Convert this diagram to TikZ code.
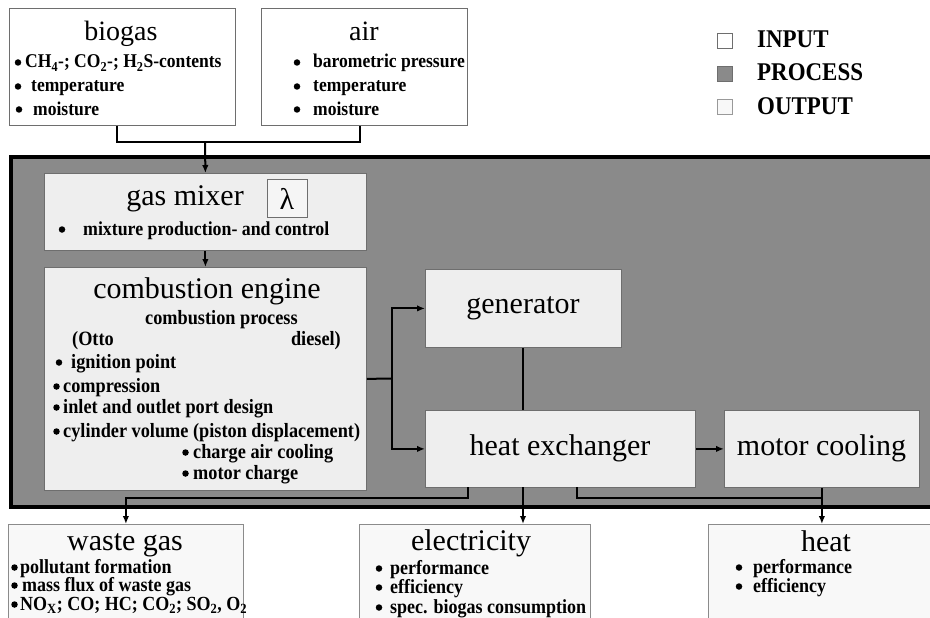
\documentclass[tikz,border=0pt]{standalone}
\usepackage{fontspec}
\setmainfont{Liberation Serif}
\newfontfamily\itemfont[FakeStretch=0.9]{Liberation Serif}
\usetikzlibrary{arrows.meta}
\definecolor{procgray}{HTML}{8A8A8A}
\definecolor{inner}{HTML}{EEEEEE}
\definecolor{outfill}{HTML}{F8F8F8}
\definecolor{edge}{HTML}{6E6E6E}
\tikzset{
  inbox/.style={draw=edge, fill=white, line width=0.8pt, inner sep=0pt, anchor=north west},
  pbox/.style={draw=edge, fill=inner, line width=0.8pt, inner sep=0pt, anchor=north west},
  obox/.style={draw=edge!80, fill=outfill, line width=0.8pt, inner sep=0pt, anchor=north west},
  procrect/.style={draw=black, fill=procgray, line width=3.5pt, inner sep=0pt, anchor=north west},
  conn/.style={line width=2pt, black},
  arr/.style={conn, -{Latex[length=8pt,width=6.5pt]}},
  ttl/.style={font=\fontsize{28}{32}\selectfont, inner sep=0pt, anchor=base},
  bigttl/.style={font=\fontsize{30}{34}\selectfont, inner sep=0pt, anchor=base},
  itm/.style={font=\itemfont\fontsize{20.3}{22}\selectfont\bfseries, inner sep=0pt, anchor=base west},
  sitm/.style={font=\itemfont\fontsize{19.5}{22}\selectfont\bfseries, inner sep=0pt, anchor=base west},
  oitm/.style={font=\itemfont\fontsize{20}{22}\selectfont\bfseries, inner sep=0pt, anchor=base west},
  bul/.style={circle, fill=black, inner sep=0pt, minimum size=6.5pt},
  leg/.style={font=\itemfont\fontsize{25.5}{28}\selectfont\bfseries, inner sep=0pt, anchor=base west},
  legsq/.style={draw=edge, line width=0.8pt, minimum size=15pt, inner sep=0pt},
}
\begin{document}
\begin{tikzpicture}[x=1pt,y=-1pt]
\useasboundingbox (0,0) rectangle (930,618);
% legend
\node[legsq, fill=white] (sqin) at (724.5,40.5) {};
\node[legsq, fill=procgray] (sqproc) at (724.5,73.5) {};
\node[legsq, fill=outfill, draw=edge!70] (sqout) at (724.5,106.5) {};
\node[leg] (lin) at (757,48) {INPUT};
\node[leg] (lproc) at (757,81) {PROCESS};
\node[leg] (lout) at (757,114) {OUTPUT};
% inputs
\node[inbox, minimum width=226pt, minimum height=117pt] (biogas) at (9,8) {};
\node[inbox, minimum width=206pt, minimum height=117pt] (air) at (261,8) {};
\node[ttl] (biogasT) at (121,41) {biogas};
\node[ttl] (airT) at (364,41) {air};
\node[bul] (bb1) at (18,62.5) {};
\node[sitm] (bt1) at (25,68) {CH\textsubscript{4}-; CO\textsubscript{2}-; H\textsubscript{2}S-contents};
\node[bul] (bb2) at (18,86.5) {};
\node[sitm] (bt2) at (31,92) {temperature};
\node[bul] (bb3) at (19,109.5) {};
\node[sitm] (bt3) at (33,115) {moisture};
\node[bul] (ab1) at (297,62.5) {};
\node[itm, font=\itemfont\fontsize{19.5}{22}\selectfont\bfseries] (at1) at (313,68) {barometric pressure};
\node[bul] (ab2) at (297,86.5) {};
\node[itm, font=\itemfont\fontsize{19.5}{22}\selectfont\bfseries] (at2) at (313,92) {temperature};
\node[bul] (ab3) at (297,109.5) {};
\node[itm, font=\itemfont\fontsize{19.5}{22}\selectfont\bfseries] (at3) at (313,115) {moisture};
% process area
\node[procrect, minimum width=940pt, minimum height=350pt] (proc) at (9,155) {};
\node[pbox, minimum width=322pt, minimum height=77pt] (mixer) at (44,173) {};
\node[bigttl] (mixerT) at (185,205) {gas mixer};
\node[draw=edge, fill=inner!60!white, line width=0.8pt, minimum width=40pt, minimum height=38pt, inner sep=0pt, font=\fontsize{30}{34}\selectfont] (lambda) at (287,198.5) {λ};
\node[bul] (mb1) at (62,229.5) {};
\node[itm, font=\itemfont\fontsize{19.8}{22}\selectfont\bfseries] (mt1) at (83,235) {mixture production- and control};
\node[pbox, minimum width=322pt, minimum height=223pt] (engine) at (44,267) {};
\node[bigttl] (engineT) at (207,298) {combustion engine};
\node[itm] (cp) at (145,324) {combustion process};
\node[itm] (otto) at (72,345) {(Otto};
\node[itm, anchor=base east] (diesel) at (341,345) {diesel)};
\node[bul] (eb1) at (59,362.5) {};
\node[itm] (et1) at (71,368) {ignition point};
\node[bul] (eb2) at (56.5,386.5) {};
\node[itm] (et2) at (63,392) {compression};
\node[bul] (eb3) at (56.5,407.5) {};
\node[itm] (et3) at (63,413) {inlet and outlet port design};
\node[bul] (eb4) at (56.5,431.5) {};
\node[itm] (et4) at (63,437) {cylinder volume (piston displacement)};
\node[bul] (eb5) at (185.5,452.5) {};
\node[itm] (et5) at (193,458) {charge air cooling};
\node[bul] (eb6) at (185.5,473.5) {};
\node[itm] (et6) at (193,479) {motor charge};
\node[pbox, minimum width=196pt, minimum height=78pt] (gen) at (425,269) {};
\node[bigttl] (genT) at (523,313) {generator};
\node[pbox, minimum width=270pt, minimum height=77pt] (hx) at (425,410) {};
\node[bigttl] (hxT) at (560,455) {heat exchanger};
\node[pbox, minimum width=195pt, minimum height=77pt] (mc) at (724,410) {};
\node[bigttl] (mcT) at (821.5,455) {motor cooling};
% outputs
\node[obox, minimum width=235pt, minimum height=110pt] (waste) at (8,524) {};
\node[bigttl] (wasteT) at (125,550) {waste gas};
\node[bul] (wb1) at (14.5,567.5) {};
\node[oitm] (wt1) at (20,573) {pollutant formation};
\node[bul] (wb2) at (14.5,585.5) {};
\node[oitm] (wt2) at (22,591) {mass flux of waste gas};
\node[bul] (wb3) at (14.5,604.5) {};
\node[oitm] (wt3) at (20,610) {NO\textsubscript{X}; CO; HC; CO\textsubscript{2}; SO\textsubscript{2}, O\textsubscript{2}};
\node[obox, minimum width=231pt, minimum height=110pt] (elec) at (359,524) {};
\node[bigttl] (elecT) at (471,550) {electricity};
\node[bul] (lb1) at (379,568.5) {};
\node[oitm] (lt1) at (390,574) {performance};
\node[bul] (lb2) at (379,587.5) {};
\node[oitm] (lt2) at (390,593) {efficiency};
\node[bul] (lb3) at (379,607.5) {};
\node[oitm] (lt3) at (390,613) {spec. biogas consumption};
\node[obox, minimum width=240pt, minimum height=110pt] (heat) at (708,524) {};
\node[bigttl] (heatT) at (826,551) {heat};
\node[bul] (hb1) at (739,567.5) {};
\node[oitm] (ht1) at (753,573) {performance};
\node[bul] (hb2) at (739,586.5) {};
\node[oitm] (ht2) at (753,592) {efficiency};
% connectors
\coordinate (j1) at (205,142);
\draw[conn] ([xshift=-5pt]biogas.south) |- (j1) -| ([xshift=-4.5pt]air.south);
\draw[arr] (j1) -- (mixer.north);
\draw[arr] (mixer.south) -- (engine.north);
\coordinate (j2) at (392,378.5);
\draw[conn] (engine.east) -- (j2);
\draw[arr] (j2) |- (gen.west);
\draw[arr] (j2) |- (hx.west);
\draw[conn] (gen.south) -- (gen.south |- hx.north);
\draw[arr] (hx.east) -- (mc.west);
\coordinate (w0) at (468,487);
\coordinate (w1) at (468,498);
\draw[arr] (w0) -- (w1) -| (waste.north);
\coordinate (e0) at (523,487);
\draw[arr] (e0) -- (e0 |- elec.north);
\coordinate (h0) at (577,487);
\coordinate (h1) at (577,498);
\draw[conn] (h0) -- (h1) -| (mc.south);
\draw[arr] (mc.south |- h1) -- (mc.south |- heat.north);
\end{tikzpicture}
\end{document}
